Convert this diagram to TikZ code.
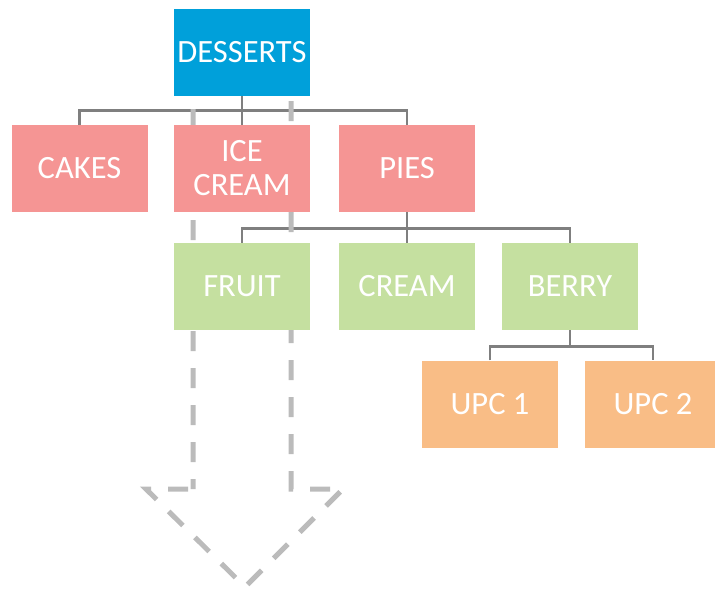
\documentclass[tikz,border=0pt]{standalone}
\usepackage{fontspec}
\setmainfont{Carlito}
\definecolor{topblue}{RGB}{0,160,218}
\definecolor{catpink}{RGB}{245,149,148}
\definecolor{subgreen}{RGB}{197,224,160}
\definecolor{leaforange}{RGB}{249,189,134}
\definecolor{linkgray}{RGB}{127,127,127}
\definecolor{arrowgray}{RGB}{187,187,187}
\tikzset{
  box/.style={rectangle, inner sep=0pt, minimum width=136pt, minimum height=87pt,
    text=white, align=center, font=\fontsize{32.5}{34}\selectfont},
  topbox/.style={box, fill=topblue},
  catbox/.style={box, fill=catpink},
  subbox/.style={box, fill=subgreen},
  leafbox/.style={box, fill=leaforange},
  link/.style={draw=linkgray, line width=2.6pt},
  flowarrow/.style={draw=arrowgray, line width=5pt, dash pattern=on 20pt off 17pt,
    dash phase=10pt, miter limit=10}
}
\begin{document}
\begin{tikzpicture}[x=1pt,y=-1pt]
\useasboundingbox (0,0) rectangle (715,590);
\clip (0,0) rectangle (715,590);

% node positions (centres)
\coordinate (pD) at (242,52);
\coordinate (pC) at (79.5,168.5);
\coordinate (pI) at (242,168.5);
\coordinate (pP) at (407,168.5);
\coordinate (pF) at (242,286.5);
\coordinate (pCr) at (407,286.5);
\coordinate (pB) at (570,286.5);
\coordinate (pU1) at (490,404);
\coordinate (pU2) at (653,404);

% invisible placeholders so connectors can be drawn first
\path node[box] (D) at (pD) {}
      node[box] (C) at (pC) {}
      node[box] (I) at (pI) {}
      node[box] (P) at (pP) {}
      node[box] (F) at (pF) {}
      node[box] (Cr) at (pCr) {}
      node[box] (B) at (pB) {}
      node[box] (U1) at (pU1) {}
      node[box] (U2) at (pU2) {};

% hierarchy connectors
\draw[link] (D.south) -- ++(0,15) coordinate (j1);
\draw[link] (C.north) |- (j1) -| (P.north);
\draw[link] (j1) -- (I.north);
\draw[link] (P.south) -- ++(0,16) coordinate (j2);
\draw[link] (F.north) |- (j2) -| (B.north);
\draw[link] (j2) -- (Cr.north);
\draw[link] (B.south) -- ++(0,16) coordinate (j3);
\draw[link] (U1.north) |- (j3) -| (U2.north);

% dashed down-arrow outline behind the boxes
\coordinate (a1) at (193,90);
\coordinate (a2) at (291,90);
\coordinate (a3) at (291,489);
\coordinate (a4) at (343,489);
\coordinate (a5) at (245,587);
\coordinate (a6) at (146,489);
\coordinate (a7) at (193,489);
\draw[flowarrow] (a7) -- (a1) -- (a2) -- (a3) -- (a4) -- (a5) -- (a6) -- cycle;

% boxes
\node[topbox] at (pD) {DESSERTS};
\node[catbox] at (pC) {CAKES};
\node[catbox] at (pI) {ICE\\CREAM};
\node[catbox] at (pP) {PIES};
\node[subbox] at (pF) {FRUIT};
\node[subbox] at (pCr) {CREAM};
\node[subbox] at (pB) {BERRY};
\node[leafbox] at (pU1) {UPC 1};
\node[leafbox] at (pU2) {UPC 2};
\end{tikzpicture}
\end{document}
